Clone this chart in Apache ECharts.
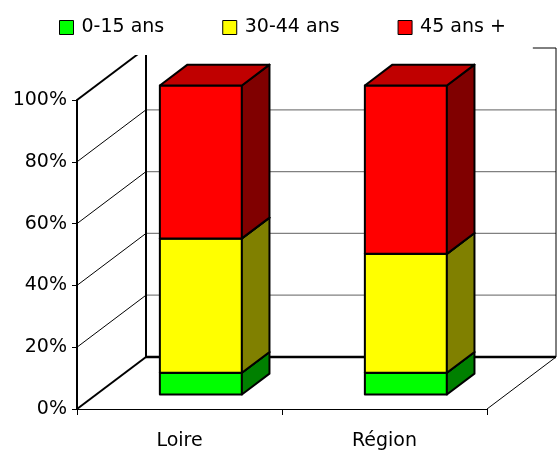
<!DOCTYPE html>
<html>
<head>
<meta charset="utf-8">
<script src="https://cdn.jsdelivr.net/npm/echarts@6/dist/echarts.min.js"></script>
<style>
  html, body { margin: 0; padding: 0; background: #fff; }
  #chart { width: 557px; height: 452px; }
</style>
</head>
<body>
<div id="chart"></div>
<script>
// Age structure (share of population, %) for Loire and the whole region
const categories = ['Loire', 'Région'];
const seriesNames = ['0-15 ans', '30-44 ans', '45 ans +'];
const age0to15 = [7, 7];
const age30to44 = [43.5, 38.5];
const age45plus = [49.5, 54.5];
const yTicks = [0, 20, 40, 60, 80, 100];

const FONT = '"DejaVu Sans", sans-serif';
// Depth vector of the 3D box (pixels) and bar placement inside the depth
const DX = 69, DY = -52;
const F0 = 0.28, F1 = 0.68, BAR_W = 0.4, BAR_SHIFT = 0.01;

const faceColors = [
  { front: '#00FF00', side: '#008000', top: '#00C000' },
  { front: '#FFFF00', side: '#808000', top: '#C0C000' },
  { front: '#FF0000', side: '#800000', top: '#C00000' }
];

const values = [age0to15, age30to44, age45plus];

// Build stacked [category, base, top] rows for each band
function stackedRows(k) {
  return categories.map((c, i) => {
    let base = 0;
    for (let j = 0; j < k; j++) base += values[j][i];
    return [i, base, base + values[k][i]];
  });
}

function line(x1, y1, x2, y2, color, width) {
  return { type: 'line', shape: { x1, y1, x2, y2 }, style: { stroke: color, lineWidth: width }, silent: true };
}

// Walls, floor and the gridlines drawn on them
function renderWalls(params, api) {
  const cs = params.coordSys;
  const xL = cs.x, xR = cs.x + cs.width;
  const y0 = api.coord([0, 0])[1];
  const yT = api.coord([0, yTicks[yTicks.length - 1]])[1];
  const children = [];
  yTicks.forEach(v => {
    const y = api.coord([0, v])[1];
    const edge = (v === 0 || v === yTicks[yTicks.length - 1]);
    children.push(line(xL, y, xL + DX, y + DY, '#000', edge ? 2 : 1));
    if (v === 0) children.push(line(xL + DX, y + DY, xR + DX, y + DY, '#000', 2.5));
    else if (edge) children.push(line(xL + DX, y + DY, xR + DX, y + DY, '#000', 1));
    else children.push(line(xL + DX, y + DY, xR + DX, y + DY, '#808080', 1.2));
  });
  children.push(line(xL + DX, yT + DY, xL + DX, y0 + DY, '#000', 2));
  children.push(line(xR + DX, yT + DY, xR + DX, y0 + DY, '#000', 1));
  children.push(line(xR, y0, xR + DX, y0 + DY, '#000', 1));
  return { type: 'group', children };
}

function makeBarRenderer(k) {
  const col = faceColors[k];
  return function (params, api) {
    const band = api.size([1, 0])[0];
    const pb = api.coord([api.value(0), api.value(1)]);
    const pt = api.coord([api.value(0), api.value(2)]);
    const half = band * BAR_W / 2;
    const fx = DX * F0 + band * BAR_SHIFT, fy = DY * F0;
    const dx = DX * (F1 - F0), dy = DY * (F1 - F0);
    const xL = pb[0] - half + fx, xR = pb[0] + half + fx;
    const yB = pb[1] + fy, yT = pt[1] + fy;
    const stroke = { stroke: '#000', lineWidth: 2, lineJoin: 'round' };
    return {
      type: 'group',
      children: [
        { type: 'rect', shape: { x: xL, y: yT, width: xR - xL, height: yB - yT },
          style: Object.assign({ fill: col.front }, stroke) },
        { type: 'polygon', shape: { points: [[xR, yT], [xR + dx, yT + dy], [xR + dx, yB + dy], [xR, yB]] },
          style: Object.assign({ fill: col.side }, stroke) },
        { type: 'polygon', shape: { points: [[xL, yT], [xR, yT], [xR + dx, yT + dy], [xL + dx, yT + dy]] },
          style: Object.assign({ fill: col.top }, stroke) }
      ]
    };
  };
}

const chart = echarts.init(document.getElementById('chart'), null, { renderer: 'canvas' });

const barSeries = seriesNames.map((name, k) => ({
  name,
  type: 'custom',
  renderItem: makeBarRenderer(k),
  data: stackedRows(k),
  encode: { x: 0, y: [1, 2] },
  itemStyle: { color: faceColors[k].front },
  z: 3 + k
}));

chart.setOption({
  animation: false,
  backgroundColor: '#fff',
  textStyle: { fontFamily: FONT },
  legend: {
    data: seriesNames,
    left: 50,
    top: 10,
    padding: [8, 27, 18, 9],
    itemGap: 58,
    itemWidth: 14,
    itemHeight: 14,
    icon: 'rect',
    backgroundColor: '#fff',
    itemStyle: { borderColor: '#000', borderWidth: 1 },
    textStyle: { fontFamily: FONT, fontSize: 19, color: '#000', padding: [0, 0, 0, 3] },
    z: 10
  },
  grid: { left: 77, right: 70, top: 100, bottom: 43, containLabel: false },
  xAxis: {
    type: 'category',
    data: categories,
    boundaryGap: true,
    axisLine: { show: true, lineStyle: { color: '#000', width: 1.2 } },
    axisTick: { show: true, length: 6, lineStyle: { color: '#000' } },
    axisLabel: { fontFamily: FONT, fontSize: 19, color: '#000', margin: 23 },
    splitLine: { show: false }
  },
  yAxis: {
    type: 'value',
    min: 0,
    max: 100,
    interval: 20,
    axisLine: { show: true, lineStyle: { color: '#000', width: 2 } },
    axisTick: { show: true, length: 5, lineStyle: { color: '#000', width: 1 } },
    axisLabel: { fontFamily: FONT, fontSize: 19, color: '#000', margin: 10, formatter: '{value}%' },
    splitLine: { show: false }
  },
  series: [
    {
      name: 'walls',
      type: 'custom',
      renderItem: renderWalls,
      data: [[0, 0]],
      encode: { x: 0, y: 1 },
      silent: true,
      z: 1
    }
  ].concat(barSeries)
});
</script>
</body>
</html>
